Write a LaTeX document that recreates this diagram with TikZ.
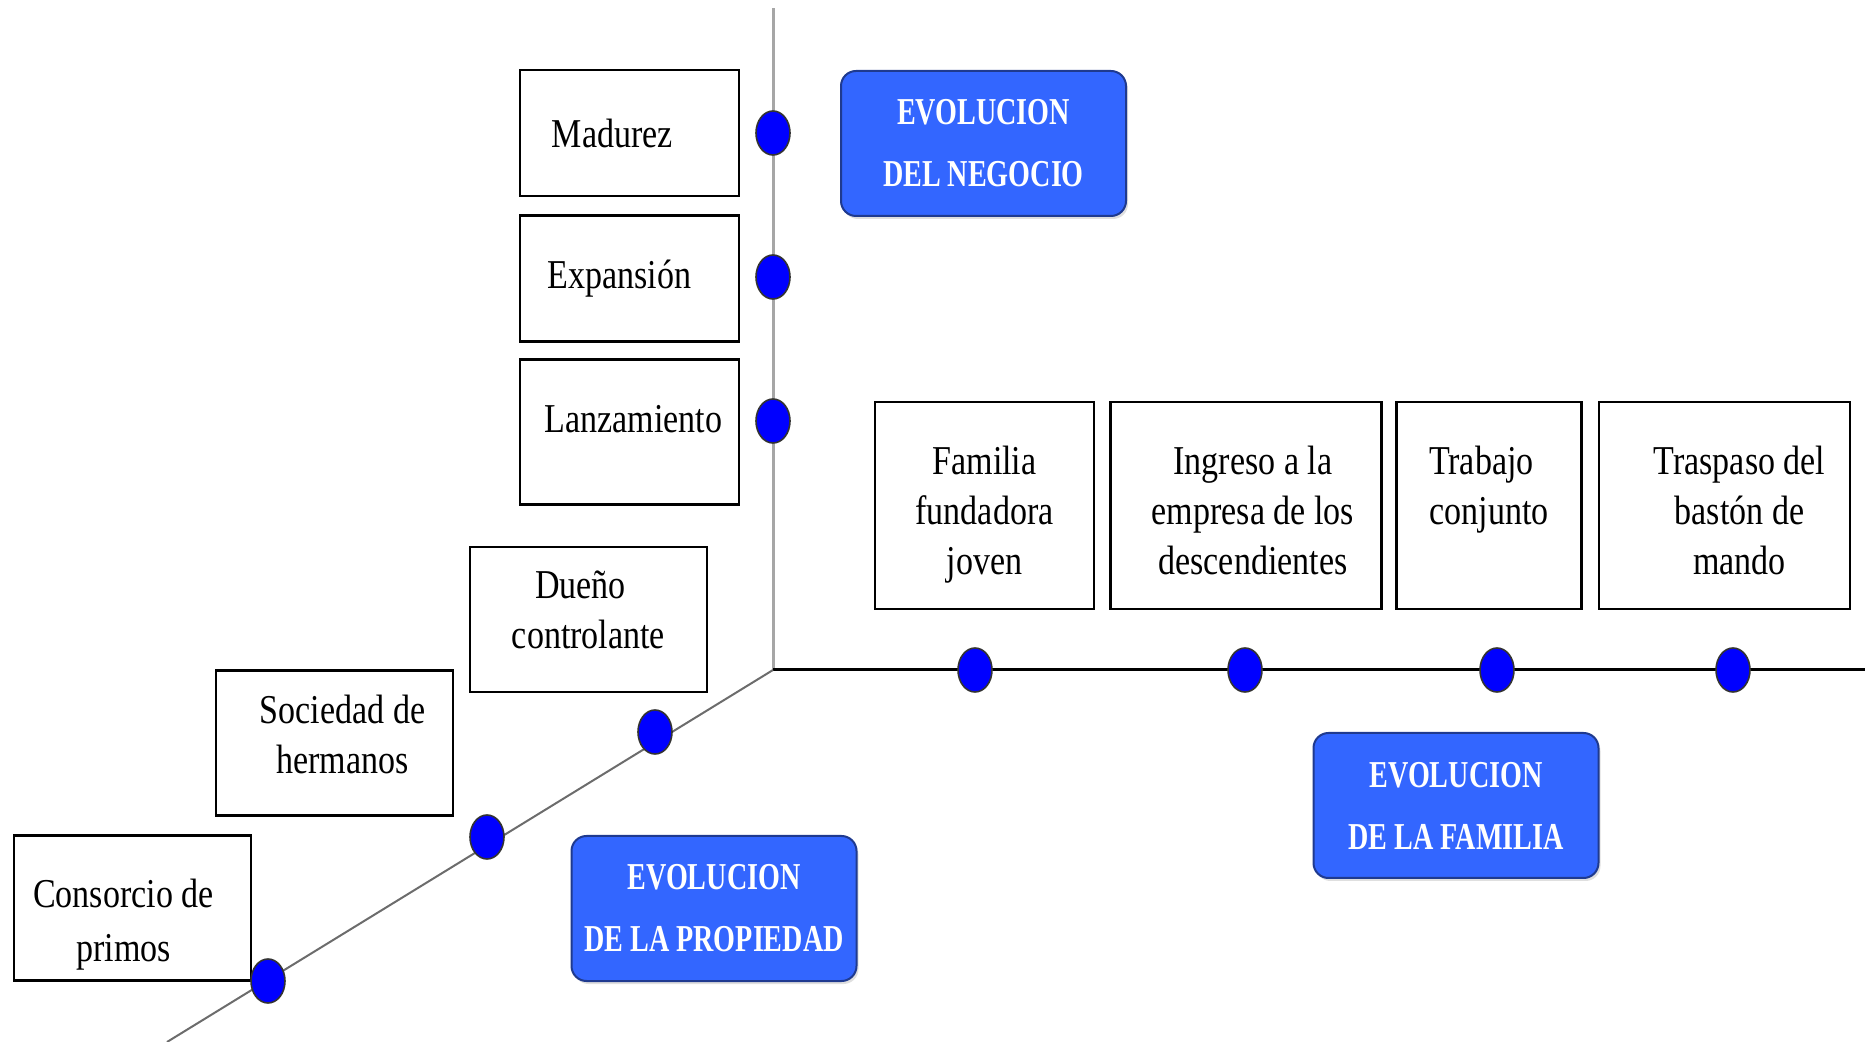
\documentclass[tikz,border=0pt]{standalone}
\usepackage{fontspec}
\setmainfont[FakeStretch=0.83]{Liberation Serif}
\newfontfamily\titlefont[FakeStretch=0.74]{Liberation Serif}
\usepackage{tikz}
\usetikzlibrary{positioning,shapes.geometric,shadows}

\definecolor{cajaazul}{HTML}{3366FF}
\definecolor{bordeazul}{HTML}{1F3A8F}

\begin{document}
\begin{tikzpicture}[
  x=0.5pt, y=-0.5pt,
	every node/.style={
		text centered
	},
	etapa/.style={
		rectangle,
		draw=black,
		line width=1.4pt,
		fill=white,
		align=center,
		inner sep=0pt,
		font=\fontsize{20.5}{25}\selectfont
	},
	evolucion/.style={
		rectangle,
		rounded corners=7.5pt,
		draw=bordeazul,
		line width=1pt,
		fill=cajaazul,
		text=white,
		minimum width=142.5pt,
		minimum height=72.5pt,
		align=center,
		inner sep=0pt,
		drop shadow={shadow xshift=1pt, shadow yshift=-1.5pt, fill=black!25},
		font=\titlefont\bfseries\fontsize{19}{31}\selectfont
	},
	punto/.style={
		ellipse,
		draw=black!80,
		line width=0.8pt,
		fill=blue,
		minimum width=17pt,
		minimum height=22pt,
		inner sep=0pt
	}
]
  \useasboundingbox (0,0) rectangle (1865,1042);

  % ejes
  \coordinate (Origen) at (773,670);
  \coordinate (Arriba) at (773,8);
  \coordinate (Derecha) at (1865,670);
  \coordinate (Abajo) at (167,1042);
  \draw[gray!70, line width=1.5pt] (Origen) -- (Arriba);
  \draw[black, line width=1.5pt] (Origen) -- (Derecha);
  \draw[gray!85!black, line width=1pt] (Origen) -- (Abajo);

  % evolucion del negocio
  \node (Madurez) [etapa, minimum width=109.5pt, minimum height=63pt] at (629.5,133) { Madurez\hspace*{13pt} };
  \node (Expansion) [etapa, minimum width=109.5pt, minimum height=63pt, below=8.3pt of Madurez] { Expansión\hspace*{6pt} };
  \node (Lanzamiento) [etapa, minimum width=109.5pt, minimum height=72.5pt, text depth=13pt, below=7.8pt of Expansion] { \hspace*{8pt}Lanzamiento };

  % evolucion de la familia
  \node (Fundadora) [etapa, minimum width=109.5pt, minimum height=103.5pt] at (984.5,505.5) { \rule{0pt}{23.5pt}Familia\\fundadora\\joven };
  \node (Ingreso) [etapa, minimum width=135.5pt, minimum height=103.5pt, right=6.8pt of Fundadora] { \rule{0pt}{18.8pt}\hspace*{7pt}Ingreso a la\\\hspace*{7pt}empresa de los\\\hspace*{7pt}descendientes };
  \node (Trabajo) [etapa, minimum width=92.5pt, minimum height=103.5pt, right=6.3pt of Ingreso] { Trabajo\hspace*{8pt}\\conjunto\hspace*{8pt}\\[-4.8pt]\mbox{} };
  \node (Traspaso) [etapa, minimum width=125.5pt, minimum height=103.5pt, right=7.2pt of Trabajo] { \rule{0pt}{18.8pt}\hspace*{15pt}Traspaso del\\\hspace*{15pt}bastón de\\\hspace*{15pt}mando };

  % evolucion de la propiedad
  \node (Dueno) [etapa, minimum width=118.5pt, minimum height=72.5pt] at (588.5,619.5) { Dueño\hspace*{8pt}\\controlante\hspace*{8pt}\\[-15.4pt]\mbox{} };
  \node (Sociedad) [etapa, minimum width=118.5pt, minimum height=72.5pt] at (334.5,743) { \hspace*{8pt}Sociedad de\\\hspace*{8pt}hermanos\\[-16pt]\mbox{} };
  \node (Consorcio) [etapa, minimum width=118.5pt, minimum height=72.5pt] at (132.5,908) { \rule{0pt}{31pt}Consorcio de\hspace*{9pt}\\[2pt]primos\hspace*{9pt} };

  % titulos
  \node (EvNegocio) [evolucion] at (983.5,143.5) { EVOLUCION\\DEL NEGOCIO };
  \node (EvPropiedad) [evolucion] at (714,908.5) { EVOLUCION\\DE LA PROPIEDAD };
  \node (EvFamilia) [evolucion] at (1456,805.5) { EVOLUCION\\DE LA FAMILIA };

  % puntos
  \node (pMadurez) [punto] at (773,133) {};
  \node (pExpansion) [punto] at (773,277) {};
  \node (pLanzamiento) [punto] at (773,421) {};
  \node (pFundadora) [punto] at (975,670) {};
  \node (pIngreso) [punto] at (1245,670) {};
  \node (pTrabajo) [punto] at (1497,670) {};
  \node (pTraspaso) [punto] at (1733,670) {};
  \node (pDueno) [punto] at (655,732) {};
  \node (pSociedad) [punto] at (487,837) {};
  \node (pConsorcio) [punto] at (268,981) {};
\end{tikzpicture}
\end{document}
